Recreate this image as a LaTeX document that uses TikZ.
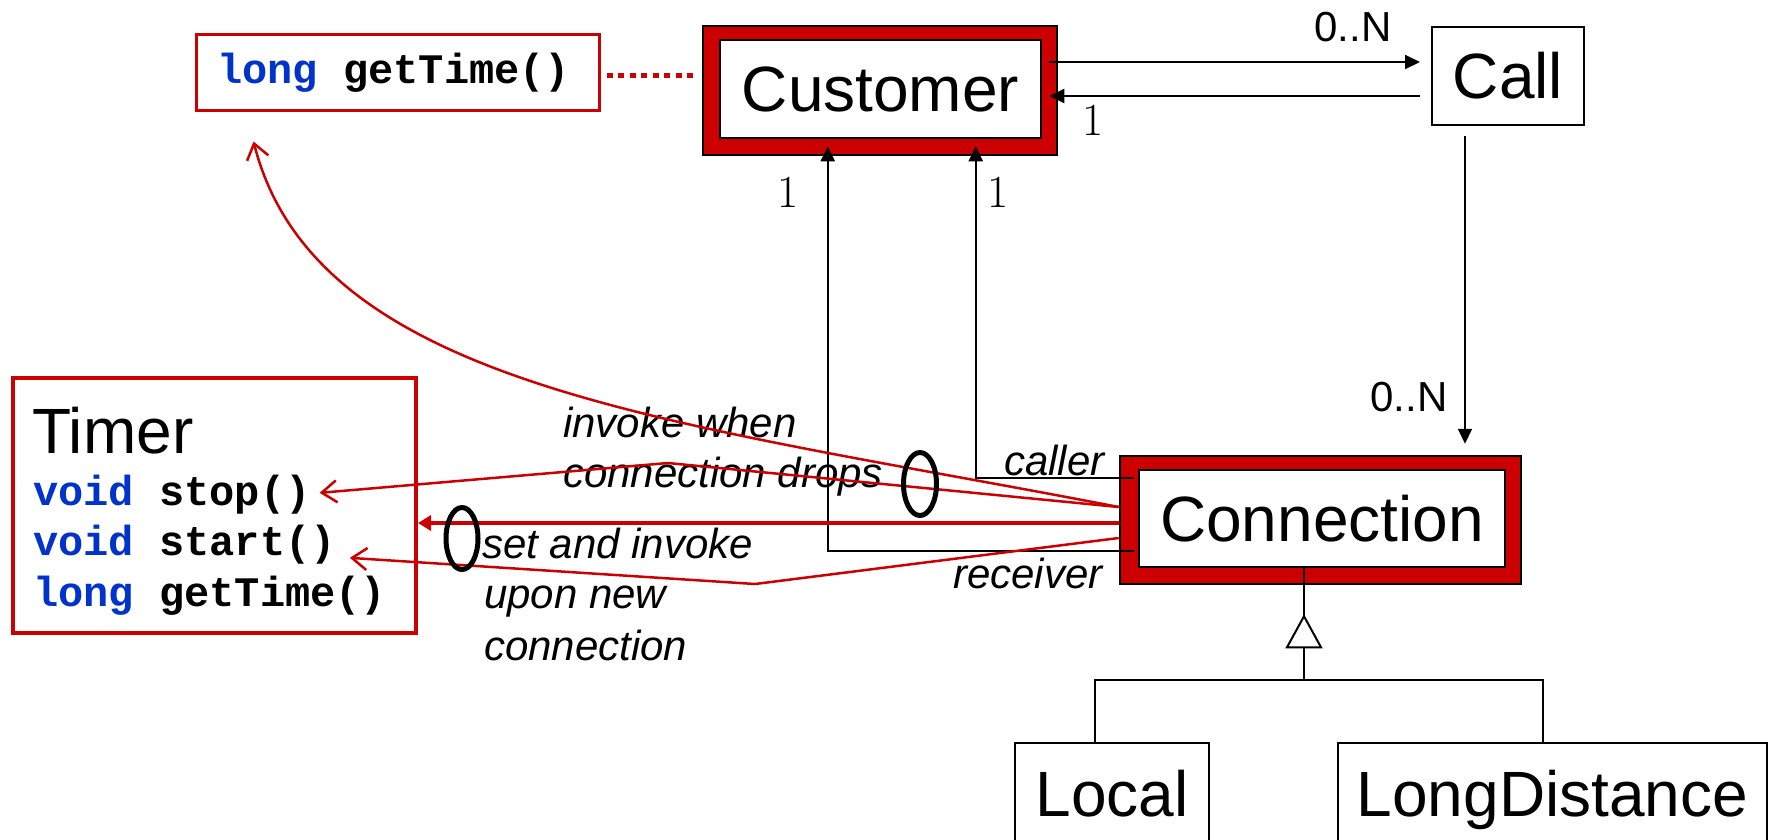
\documentclass[tikz,border=0pt]{standalone}
\usepackage{fontspec}
\usetikzlibrary{arrows.meta,calc}
\newfontfamily\arialf{Liberation Sans}
\newfontfamily\courf{Liberation Mono}
\definecolor{dred}{RGB}{204,0,0}
\definecolor{kblue}{RGB}{0,51,204}
\newcommand{\kw}[1]{\textcolor{kblue}{#1}}
\begin{document}
\begin{tikzpicture}[x=1pt,y=-1pt,
  classf/.style={font=\arialf\fontsize{64}{70}\selectfont},
  outerbox/.style={draw=black, line width=2.5pt, fill=dred, inner sep=0pt},
  innerbox/.style={draw=black, line width=2.5pt, fill=white, inner sep=0pt, classf},
  plainbox/.style={draw=black, line width=2pt, fill=white, inner sep=0pt, classf},
  redbox/.style={draw=dred, inner sep=0pt},
  code/.style={font=\courf\bfseries\fontsize{42}{50}\selectfont, inner sep=0pt, anchor=base west},
  lab/.style={font=\arialf\itshape\fontsize{42}{50}\selectfont, inner sep=0pt, anchor=base west},
  mult/.style={font=\arialf\fontsize{42}{50}\selectfont, inner sep=0pt},
  one/.style={font=\rmfamily\fontsize{46}{50}\selectfont, inner sep=0pt},
  blk/.style={draw=black, line width=2pt, -{Triangle[length=15pt,width=14pt]}},
  redthin/.style={draw=dred, line width=2.5pt, -{Straight Barb[length=15pt,width=22pt]}},
  redthick/.style={draw=dred, line width=4.5pt, -{Triangle[length=13pt,width=15pt]}},
  dotline/.style={draw=dred, line width=5pt, dash pattern=on 6pt off 5.5pt},
  genline/.style={draw=black, line width=2pt},
  oval/.style={draw=black, line width=5pt}
]
\useasboundingbox (0,0) rectangle (1770,839);
\fill[white] (0,0) rectangle (1770,839);
\clip (0,0) rectangle (1770,839);

% boxes
\node[redbox, line width=3pt, minimum width=403pt, minimum height=76pt] (gt) at (397.5,72) {};
\node[code] (gtt) at (217,83) {\kw{long} getTime()};

\node[outerbox, minimum width=354pt, minimum height=129pt] (custo) at (880,90.5) {};
\node[innerbox, minimum width=321pt, minimum height=98pt] (custi) at (880.5,89) {Customer};

\node[plainbox, minimum width=152pt, minimum height=98pt] (call) at (1508,76) {Call};

\node[outerbox, minimum width=401pt, minimum height=128pt] (conno) at (1320.5,520) {};
\node[innerbox, minimum width=366pt, minimum height=97pt] (conni) at (1322,518.5) {Connection};

\node[redbox, line width=4pt, minimum width=403pt, minimum height=255pt] (timer) at (214.5,505.5) {};
\node[inner sep=0pt, anchor=base west, classf] (tname) at (32,453) {Timer};
\node[code] (stopt) at (33,505) {\kw{void} stop()};
\node[code] (startt) at (33,555) {\kw{void} start()};
\node[code] (gett) at (33,606) {\kw{long} getTime()};

\node[plainbox, minimum width=194pt, text height=45pt, text depth=100pt, inner ysep=28pt, anchor=north] (local) at (1112,742) {Local};
\node[plainbox, minimum width=429pt, text height=45pt, text depth=100pt, inner ysep=28pt, anchor=north] (ldist) at (1552.5,742) {LongDistance};

% labels
\node[mult] (m1) at (1353,27) {0..N};
\node[mult] (m2) at (1409,397.5) {0..N};
\node[one] (o1) at (788,192) {1};
\node[one] (o2) at (998,192) {1};
\node[one] (o3) at (1093,120) {1};

\node[lab] (inv1) at (563,437) {invoke when};
\node[lab] (inv2) at (563,487) {connection drops};
\node[lab] (set1) at (482,558) {set and invoke};
\node[lab] (set2) at (484,608) {upon new};
\node[lab] (set3) at (484,660) {connection};
\node[lab] (callerl) at (1004,475) {caller};
\node[lab] (recl) at (953,588) {receiver};

% dotted link
\draw[dotline] ($(gt.east)+(6,3)$) -- ($(gt.east -| custo.west)+(-6,3)$);

% black associations
\coordinate (cc1) at ($(custo.east)+(-9,-28.5)$);
\draw[blk] (cc1) -- ($(cc1 -| call.west)+(-11,0)$);
\coordinate (cc2) at ($(call.west)+(-11,20)$);
\draw[blk] (cc2) -- ($(cc2 -| custo.east)+(-9,0)$);

\coordinate (cl) at ($(conno.west)+(15,-42)$);
\draw[blk] (cl) -| ($(custo.south west)+(274,-10)$);
\coordinate (rc) at ($(conno.west)+(15,31)$);
\draw[blk] (rc) -| ($(custo.south west)+(126,-10)$);

\draw[blk] ($(call.south)+(-43,10)$) -- ($(conno.north -| call.south)+(-43,-11)$);

% generalization
\coordinate (gapex) at ($(conni.south)+(-18,48)$);
\draw[genline] (conni.south -| gapex) -- (gapex);
\draw[genline, fill=white] (gapex) -- ++(-17,31) -- ++(34,0) -- cycle;
\coordinate (bar) at ($(gapex)+(0,64)$);
\draw[genline] ($(gapex)+(0,31)$) -- (bar);
\coordinate (lA) at ($(local.north west)+(81,0)$);
\coordinate (lB) at ($(ldist.north west)+(206,0)$);
\draw[genline] (lA) |- (bar) -| (lB);

% red invocation arrows
\coordinate (gtip) at ($(gt.south west)+(59,30)$);
\draw[redthin] ([yshift=13pt]conno.west) .. controls (680,422) and (317,390) .. (gtip);
\coordinate (k1) at (668,463);
\draw[redthin] ([yshift=13pt]conno.west) -- (k1) -- ($(stopt.mid east)+(9,-10)$);
\coordinate (th) at ($(conno.west)+(0,3)$);
\draw[redthick] (th) -- (th -| timer.east);
\coordinate (k2) at (755,584);
\draw[redthin] ([yshift=-18pt]conno.west) -- (k2) -- ($(startt.mid east)+(14,5)$);

% ovals
\draw[oval] (920,484) ellipse [x radius=16.5pt, y radius=31.5pt];
\draw[oval] (462,538.5) ellipse [x radius=16pt, y radius=31pt];
\end{tikzpicture}
\end{document}
